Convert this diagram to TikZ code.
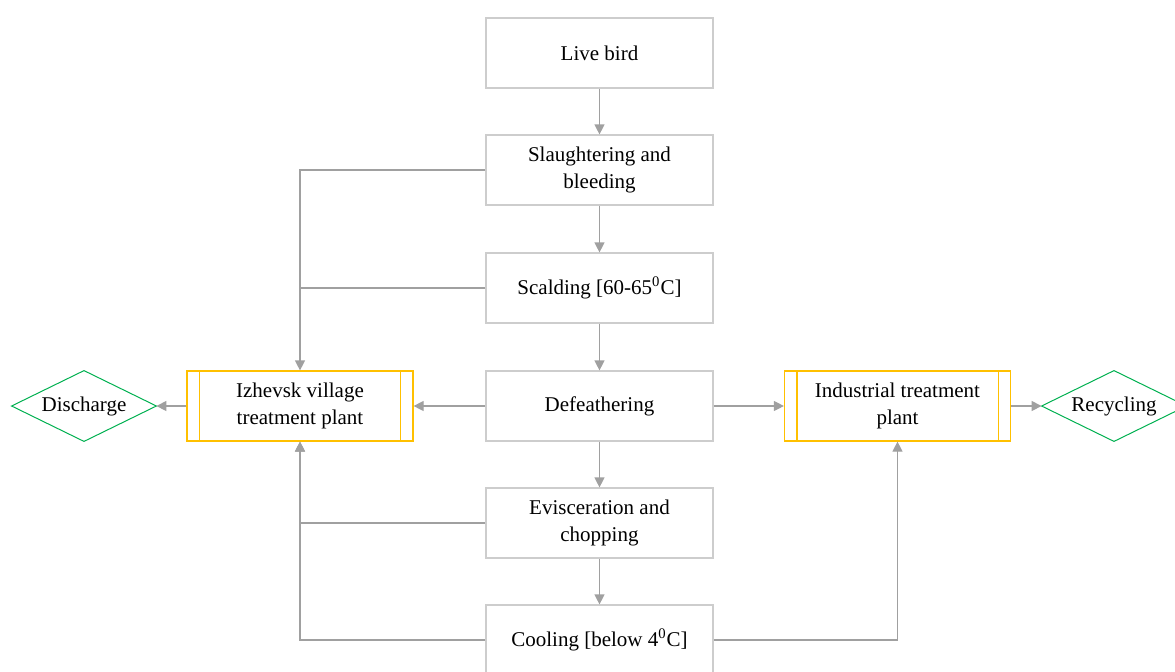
\documentclass[tikz,border=0pt]{standalone}
\usepackage{fontspec}
\setmainfont{Liberation Serif}
\usetikzlibrary{shapes.geometric, arrows.meta, positioning, calc}
\definecolor{boxgray}{RGB}{205,205,205}
\definecolor{linegray}{RGB}{160,160,160}
\definecolor{plantyellow}{RGB}{255,192,0}
\definecolor{endgreen}{RGB}{0,176,80}

\begin{document}
\begin{tikzpicture}[x=0.5pt, y=-0.5pt,
    txt/.style={font=\fontsize{10.5}{13.7}\selectfont, align=center},
    stepbox/.style={txt, draw=boxgray, line width=0.6pt, fill=white, minimum width=113.5pt, minimum height=35pt, inner sep=0pt},
    plantbox/.style={txt, draw=plantyellow, line width=0.6pt, fill=white, minimum width=113pt, minimum height=35pt, inner sep=0pt},
    endpoint/.style={txt, minimum width=72pt, minimum height=35pt, inner sep=0pt},
    flow/.style={draw=linegray, line width=0.6pt, -{Triangle[width=5pt,length=5pt]}},
    link/.style={draw=linegray, line width=0.6pt}]
    % Page frame
    \useasboundingbox (0,0) rectangle (1175,671);

    % Process steps
    \node[stepbox] (live) at (599.5,53) {Live bird};
    \node[stepbox] (slaughter) at (599.5,170) {Slaughtering and\\bleeding};
    \node[stepbox] (scald) at (599.5,288) {Scalding [60-65\textsuperscript{0}C]};
    \node[stepbox] (defeather) at (599.5,406) {Defeathering};
    \node[stepbox] (eviscerate) at (599.5,523) {Evisceration and\\chopping};
    \node[stepbox] (cool) at (599.5,640) {Cooling [below 4\textsuperscript{0}C]};

    % Treatment plants
    \node[plantbox] (izhevsk) at (300,406) {Izhevsk village\\treatment plant};
    \node[plantbox] (industrial) at (897.5,406) {Industrial treatment\\plant};
    \draw[plantyellow, line width=0.6pt] ([xshift=6.5pt]izhevsk.north west) -- ([xshift=6.5pt]izhevsk.south west);
    \draw[plantyellow, line width=0.6pt] ([xshift=-6.5pt]izhevsk.north east) -- ([xshift=-6.5pt]izhevsk.south east);
    \draw[plantyellow, line width=0.6pt] ([xshift=6.5pt]industrial.north west) -- ([xshift=6.5pt]industrial.south west);
    \draw[plantyellow, line width=0.6pt] ([xshift=-6.5pt]industrial.north east) -- ([xshift=-6.5pt]industrial.south east);

    % End points
    \node[endpoint] (discharge) at (84,406) {Discharge};
    \node[endpoint] (recycling) at (1114,406) {Recycling};
    \draw[endgreen, line width=0.5pt] (discharge.north) -- (discharge.east) -- (discharge.south) -- (discharge.west) -- cycle;
    \draw[endgreen, line width=0.5pt] (recycling.north) -- (recycling.east) -- (recycling.south) -- (recycling.west) -- cycle;

    % Main line
    \draw[flow] (live) -- (slaughter);
    \draw[flow] (slaughter) -- (scald);
    \draw[flow] (scald) -- (defeather);
    \draw[flow] (defeather) -- (eviscerate);
    \draw[flow] (eviscerate) -- (cool);

    % Waste water
    \draw[flow] (slaughter.west) -| (izhevsk.north);
    \draw[link] (scald.west) -- (scald.west -| izhevsk.north);
    \draw[flow] (eviscerate.west) -| (izhevsk.south);
    \draw[flow] (cool.west) -| (izhevsk.south);
    \draw[flow] (cool.east) -| (industrial.south);
    \draw[flow] (defeather) -- (izhevsk);
    \draw[flow] (defeather) -- (industrial);
    \draw[flow] (izhevsk) -- (discharge);
    \draw[flow] (industrial) -- (recycling);
\end{tikzpicture}
\end{document}
